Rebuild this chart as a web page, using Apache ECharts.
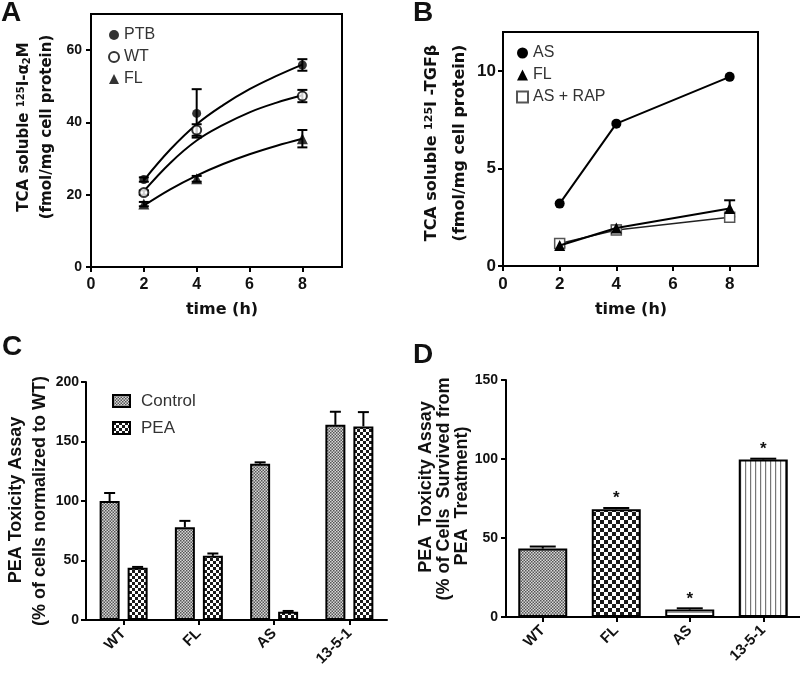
<!DOCTYPE html>
<html>
<head>
<meta charset="utf-8">
<script src="https://cdn.jsdelivr.net/npm/echarts@6/dist/echarts.min.js"></script>
<style>
html,body{margin:0;padding:0;background:#fff;}
#chart{width:800px;height:679px;}
</style>
</head>
<body>
<div id="chart"></div>
<script>
// ---------------- DATA ----------------
// Panel A
const timesA = [2, 4, 8];
const ptbMean = [24.2, 42.5, 55.9];
const ptbErr = [0.6, 6.7, 1.6];
const wtMean = [20.6, 37.9, 47.3];
const wtErr = [0.6, 1.6, 1.7];
const flMeanA = [17.4, 24.4, 35.5];
const flErrA = [0.6, 0.8, 2.4];
// fitted curves
const fitTimes = [2, 3, 4, 5, 6, 7, 8];
const ptbFit = [24, 32.5, 39.5, 44.8, 49.2, 52.8, 56];
const wtFit = [21, 28.8, 35, 39.3, 42.8, 45.4, 47.5];
const flFit = [17, 21.5, 25.3, 28.5, 31.2, 33.5, 35.5];
const xTicksAB = [0, 2, 4, 6, 8];
const yTicksA = [0, 20, 40, 60];

// Panel B
const timesB = [2, 4, 8];
const asMean = [3.2, 7.3, 9.7];
const asErr = [0.08, 0.08, 0.08];
const flMeanB = [1.05, 1.95, 2.95];
const flErrB = [0.08, 0.12, 0.42];
const rapMean = [1.15, 1.85, 2.5];
const rapErr = [0.08, 0.08, 0.08];
const yTicksB = [0, 5, 10];

// Panel C
const catsC = ['WT', 'FL', 'AS', '13-5-1'];
const controlVals = [100, 78, 131.3, 164];
const controlErr = [6.7, 5.3, 1.2, 11];
const peaVals = [44, 53.9, 7, 162.7];
const peaErr = [0.6, 2.0, 0.6, 12];

// Panel D
const catsD = ['WT', 'FL', 'AS', '13-5-1'];
const dVals = [43.3, 68.2, 4.7, 99.7];
const dErr = [1.3, 0.8, 0.8, 0.5];
const dStars = ['', '*', '*', '*'];

// ---------------- PATTERNS ----------------
function pattern(w, h, draw) {
  const c = document.createElement('canvas');
  c.width = w; c.height = h;
  const ctx = c.getContext('2d');
  ctx.fillStyle = '#fff'; ctx.fillRect(0, 0, w, h);
  draw(ctx);
  return { image: c, repeat: 'repeat' };
}
function checker(cell, a, b) {
  return pattern(cell * 2, cell * 2, ctx => {
    ctx.fillStyle = b; ctx.fillRect(0, 0, cell * 2, cell * 2);
    ctx.fillStyle = a;
    ctx.fillRect(0, 0, cell, cell);
    ctx.fillRect(cell, cell, cell, cell);
  });
}
const fineGray = checker(1.5, '#555', '#d8d8d8');
const coarseC = checker(3, '#1a1a1a', '#ffffff');
const coarseD = checker(4, '#1a1a1a', '#ffffff');
const hLines = pattern(4, 3, ctx => { ctx.fillStyle = '#9a9a9a'; ctx.fillRect(0, 0, 4, 1); });
const vLines = pattern(5, 4, ctx => { ctx.fillStyle = '#777'; ctx.fillRect(0, 0, 1.2, 4); });
const dPatterns = [fineGray, coarseD, hLines, vLines];

// ---------------- HELPERS ----------------
const TICKFONT = "'Liberation Sans', Arial, sans-serif";
const NAMEFONT = "'DejaVu Sans', Verdana, sans-serif";

function errBothRender(capW) {
  return function (params, api) {
    const x = api.value(0), y = api.value(1), e = api.value(2);
    const top = api.coord([x, y + e]);
    const bot = api.coord([x, y - e]);
    const st = { stroke: '#000', lineWidth: 2 };
    return {
      type: 'group', children: [
        { type: 'line', shape: { x1: top[0], y1: top[1], x2: bot[0], y2: bot[1] }, style: st },
        { type: 'line', shape: { x1: top[0] - capW / 2, y1: top[1], x2: top[0] + capW / 2, y2: top[1] }, style: st },
        { type: 'line', shape: { x1: bot[0] - capW / 2, y1: bot[1], x2: bot[0] + capW / 2, y2: bot[1] }, style: st }
      ]
    };
  };
}
function errUpRender(capW, offset) {
  return function (params, api) {
    const i = api.value(0), y = api.value(1), e = api.value(2);
    const base = api.coord([i, y]);
    const top = api.coord([i, y + e]);
    const x = base[0] + offset;
    const st = { stroke: '#000', lineWidth: 2 };
    return {
      type: 'group', children: [
        { type: 'line', shape: { x1: x, y1: base[1], x2: x, y2: top[1] }, style: st },
        { type: 'line', shape: { x1: x - capW / 2, y1: top[1], x2: x + capW / 2, y2: top[1] }, style: st }
      ]
    };
  };
}
const zip = (xs, ys) => xs.map((x, i) => [x, ys[i]]);
const zip3 = (xs, ys, es) => xs.map((x, i) => [x, ys[i], es[i]]);

function valueAxis(grid, min, max, ticks, fontSize, margin) {
  return {
    type: 'value', gridIndex: grid, min: min, max: max,
    splitLine: { show: false },
    axisLine: { show: true, lineStyle: { color: '#000', width: 2 } },
    axisTick: { show: true, length: 5, lineStyle: { color: '#000', width: 2 }, customValues: ticks },
    axisLabel: { fontFamily: TICKFONT, fontWeight: 'bold', fontSize: fontSize, color: '#111', margin: margin, customValues: ticks }
  };
}
function catAxis(grid, cats) {
  return {
    type: 'category', gridIndex: grid, data: cats,
    axisLine: { show: true, lineStyle: { color: '#000', width: 2 } },
    axisTick: { show: true, alignWithLabel: true, length: 5, lineStyle: { color: '#000', width: 2 } },
    axisLabel: { rotate: 45, fontFamily: TICKFONT, fontWeight: 'bold', fontSize: 15, color: '#111', margin: 11, interval: 0 }
  };
}
function yAxisStd(grid, min, max, interval, fontSize, margin) {
  return {
    type: 'value', gridIndex: grid, min: min, max: max, interval: interval,
    splitLine: { show: false },
    axisLine: { show: true, lineStyle: { color: '#000', width: 2 } },
    axisTick: { show: true, length: 5, lineStyle: { color: '#000', width: 2 } },
    axisLabel: { fontFamily: TICKFONT, fontWeight: 'bold', fontSize: fontSize, color: '#111', margin: margin }
  };
}

function vText(x, y, text, font, rich) {
  return {
    type: 'text', x: x, y: y, rotation: Math.PI / 2,
    style: {
      text: text, font: font, fill: '#111', align: 'center', verticalAlign: 'middle',
      rich: rich || undefined
    }
  };
}
function hText(x, y, text, font) {
  return { type: 'text', x: x, y: y, style: { text: text, font: font, fill: '#111', align: 'center', verticalAlign: 'middle' } };
}

const supRich = {
  m: { fontFamily: NAMEFONT, fontWeight: 'bold', fontSize: 15, verticalAlign: 'middle' },
  sup: { fontFamily: NAMEFONT, fontWeight: 'bold', fontSize: 10, verticalAlign: 'top', padding: [0, 0, 6, 0] },
  sub: { fontFamily: NAMEFONT, fontWeight: 'bold', fontSize: 10, verticalAlign: 'bottom', padding: [6, 0, 0, 0] }
};
const supRichB = {
  m: { fontFamily: NAMEFONT, fontWeight: 'bold', fontSize: 16, verticalAlign: 'middle' },
  sup: { fontFamily: NAMEFONT, fontWeight: 'bold', fontSize: 11, verticalAlign: 'top', padding: [0, 0, 6, 0] }
};

// ---------------- OPTION ----------------
const chart = echarts.init(document.getElementById('chart'), null, { renderer: 'canvas' });
const option = {
  animation: false,
  backgroundColor: '#fff',
  grid: [
    { left: 91, top: 14, width: 251, height: 253, show: true, borderColor: '#000', borderWidth: 2, backgroundColor: 'transparent' },
    { left: 503, top: 32, width: 255, height: 234, show: true, borderColor: '#000', borderWidth: 2, backgroundColor: 'transparent' },
    { left: 86, top: 382, width: 301, height: 238 },
    { left: 506, top: 380, width: 294, height: 237 }
  ],
  xAxis: [
    valueAxis(0, 0, 9.5, xTicksAB, 16, 10),
    valueAxis(1, 0, 9, xTicksAB, 17, 10),
    catAxis(2, catsC),
    catAxis(3, catsD)
  ],
  yAxis: [
    valueAxis(0, 0, 70, yTicksA, 14, 9),
    valueAxis(1, 0, 12, yTicksB, 17, 7),
    yAxisStd(2, 0, 200, 50, 14, 7),
    yAxisStd(3, 0, 150, 50, 14, 8)
  ],
  legend: [
    {
      left: 103, top: 21, orient: 'vertical', itemGap: 4, itemWidth: 10, itemHeight: 10,
      textStyle: { fontFamily: TICKFONT, fontSize: 16, color: '#333', lineHeight: 18 },
      selectedMode: false,
      data: [{ name: 'PTB', icon: 'circle' }, { name: 'WT', icon: 'circle' }, { name: 'FL', icon: 'triangle' }]
    },
    {
      left: 511, top: 39, orient: 'vertical', itemGap: 4, itemWidth: 11, itemHeight: 11,
      textStyle: { fontFamily: TICKFONT, fontSize: 16, color: '#333', lineHeight: 18 },
      selectedMode: false,
      data: [{ name: 'AS', icon: 'circle' }, { name: 'FL ', icon: 'triangle' }, { name: 'AS + RAP', icon: 'rect' }]
    },
    {
      left: 107, top: 387, orient: 'vertical', itemGap: 9, itemWidth: 17, itemHeight: 12,
      textStyle: { fontFamily: TICKFONT, fontSize: 17, color: '#333', lineHeight: 18, padding: [0, 0, 0, 6] },
      selectedMode: false,
      data: [{ name: 'Control', icon: 'rect' }, { name: 'PEA', icon: 'rect' }]
    }
  ],
  series: [
    // ---- Panel A fits
    { type: 'line', xAxisIndex: 0, yAxisIndex: 0, data: zip(fitTimes, ptbFit), smooth: 0.4, showSymbol: false, symbol: 'none', lineStyle: { color: '#000', width: 2 }, z: 2, silent: true },
    { type: 'line', xAxisIndex: 0, yAxisIndex: 0, data: zip(fitTimes, wtFit), smooth: 0.4, showSymbol: false, symbol: 'none', lineStyle: { color: '#000', width: 2 }, z: 2, silent: true },
    { type: 'line', xAxisIndex: 0, yAxisIndex: 0, data: zip(fitTimes, flFit), smooth: 0.4, showSymbol: false, symbol: 'none', lineStyle: { color: '#000', width: 2 }, z: 2, silent: true },
    // ---- Panel A error bars
    { type: 'custom', xAxisIndex: 0, yAxisIndex: 0, data: zip3(timesA, ptbMean, ptbErr), renderItem: errBothRender(10), z: 3 },
    { type: 'custom', xAxisIndex: 0, yAxisIndex: 0, data: zip3(timesA, wtMean, wtErr), renderItem: errBothRender(10), z: 3 },
    { type: 'custom', xAxisIndex: 0, yAxisIndex: 0, data: zip3(timesA, flMeanA, flErrA), renderItem: errBothRender(10), z: 3 },
    // ---- Panel A markers
    { name: 'PTB', type: 'scatter', xAxisIndex: 0, yAxisIndex: 0, data: zip(timesA, ptbMean), symbol: 'circle', symbolSize: 9, itemStyle: { color: '#000' }, z: 5 },
    { name: 'WT', type: 'scatter', xAxisIndex: 0, yAxisIndex: 0, data: zip(timesA, wtMean), symbol: 'circle', symbolSize: 9, itemStyle: { color: '#fff', borderColor: '#000', borderWidth: 2 }, z: 5 },
    { name: 'FL', type: 'scatter', xAxisIndex: 0, yAxisIndex: 0, data: zip(timesA, flMeanA), symbol: 'triangle', symbolSize: 11, itemStyle: { color: '#000' }, z: 5 },
    // ---- Panel B
    { type: 'custom', xAxisIndex: 1, yAxisIndex: 1, data: zip3(timesB, flMeanB, flErrB), renderItem: errBothRender(11), z: 3 },
    { name: 'AS + RAP', type: 'line', xAxisIndex: 1, yAxisIndex: 1, data: zip(timesB, rapMean), symbol: 'rect', symbolSize: 10, showSymbol: true,
      lineStyle: { color: '#222', width: 1.5 }, itemStyle: { color: '#fff', borderColor: '#555', borderWidth: 1.5 }, z: 4 },
    { name: 'FL ', type: 'line', xAxisIndex: 1, yAxisIndex: 1, data: zip(timesB, flMeanB), symbol: 'triangle', symbolSize: 11, showSymbol: true,
      lineStyle: { color: '#000', width: 2 }, itemStyle: { color: '#000' }, z: 5 },
    { name: 'AS', type: 'line', xAxisIndex: 1, yAxisIndex: 1, data: zip(timesB, asMean), symbol: 'circle', symbolSize: 10, showSymbol: true,
      lineStyle: { color: '#000', width: 2 }, itemStyle: { color: '#000' }, z: 5 },
    // ---- Panel C
    { name: 'Control', type: 'bar', xAxisIndex: 2, yAxisIndex: 2, data: controlVals, barWidth: 20, barGap: '40%',
      itemStyle: { color: fineGray, borderColor: '#000', borderWidth: 2 }, z: 3 },
    { name: 'PEA', type: 'bar', xAxisIndex: 2, yAxisIndex: 2, data: peaVals, barWidth: 20, barGap: '40%',
      itemStyle: { color: coarseC, borderColor: '#000', borderWidth: 2 }, z: 3 },
    { type: 'custom', xAxisIndex: 2, yAxisIndex: 2, data: zip3(catsC.map((c, i) => i), controlVals, controlErr), renderItem: errUpRender(11, -14), z: 4 },
    { type: 'custom', xAxisIndex: 2, yAxisIndex: 2, data: zip3(catsC.map((c, i) => i), peaVals, peaErr), renderItem: errUpRender(11, 14), z: 4 },
    // ---- Panel D
    { name: 'D', type: 'bar', xAxisIndex: 3, yAxisIndex: 3, barWidth: 49,
      data: dVals.map((v, i) => ({
        value: v,
        itemStyle: { color: dPatterns[i], borderColor: '#000', borderWidth: 2 },
        label: { show: dStars[i] !== '', formatter: dStars[i], position: 'top', distance: 2, fontFamily: TICKFONT, fontWeight: 'bold', fontSize: 17, color: '#111' }
      })), z: 3 },
    { type: 'custom', xAxisIndex: 3, yAxisIndex: 3, data: zip3(catsD.map((c, i) => i), dVals, dErr), renderItem: errUpRender(26, 0), z: 4 }
  ],
  graphic: [
    // panel letters
    hText(11, 13, 'A', "bold 28px 'Liberation Sans', Arial"),
    hText(423, 13, 'B', "bold 28px 'Liberation Sans', Arial"),
    hText(12, 347, 'C', "bold 28px 'Liberation Sans', Arial"),
    hText(423, 355, 'D', "bold 28px 'Liberation Sans', Arial"),
    // A axis names
    vText(24, 127, '{m|TCA soluble }{sup|125}{m|I-α}{sub|2}{m|M}', "bold 15px 'DejaVu Sans'", supRich),
    vText(47, 127, '(fmol/mg cell protein)', "bold 15px 'DejaVu Sans'"),
    hText(222, 310, 'time (h)', "bold 16px 'DejaVu Sans'"),
    // B axis names
    vText(432, 143, '{m|TCA soluble }{sup|125}{m|I -TGFβ}', "bold 16px 'DejaVu Sans'", supRichB),
    vText(460, 143, '(fmol/mg cell protein)', "bold 16px 'DejaVu Sans'"),
    hText(631, 310, 'time (h)', "bold 16px 'DejaVu Sans'"),
    // C axis names
    vText(16, 500, 'PEA Toxicity Assay', "bold 18px 'Liberation Sans', Arial"),
    vText(40, 501, '(% of cells normalized to WT)', "bold 18px 'Liberation Sans', Arial"),
    // D axis names
    vText(426, 487, 'PEA  Toxicity Assay', "bold 18px 'Liberation Sans', Arial"),
    vText(444, 489, '(% of Cells  Survived from', "bold 18px 'Liberation Sans', Arial"),
    vText(462, 496, 'PEA  Treatment)', "bold 18px 'Liberation Sans', Arial")
  ]
};
chart.setOption(option);
</script>
</body>
</html>
